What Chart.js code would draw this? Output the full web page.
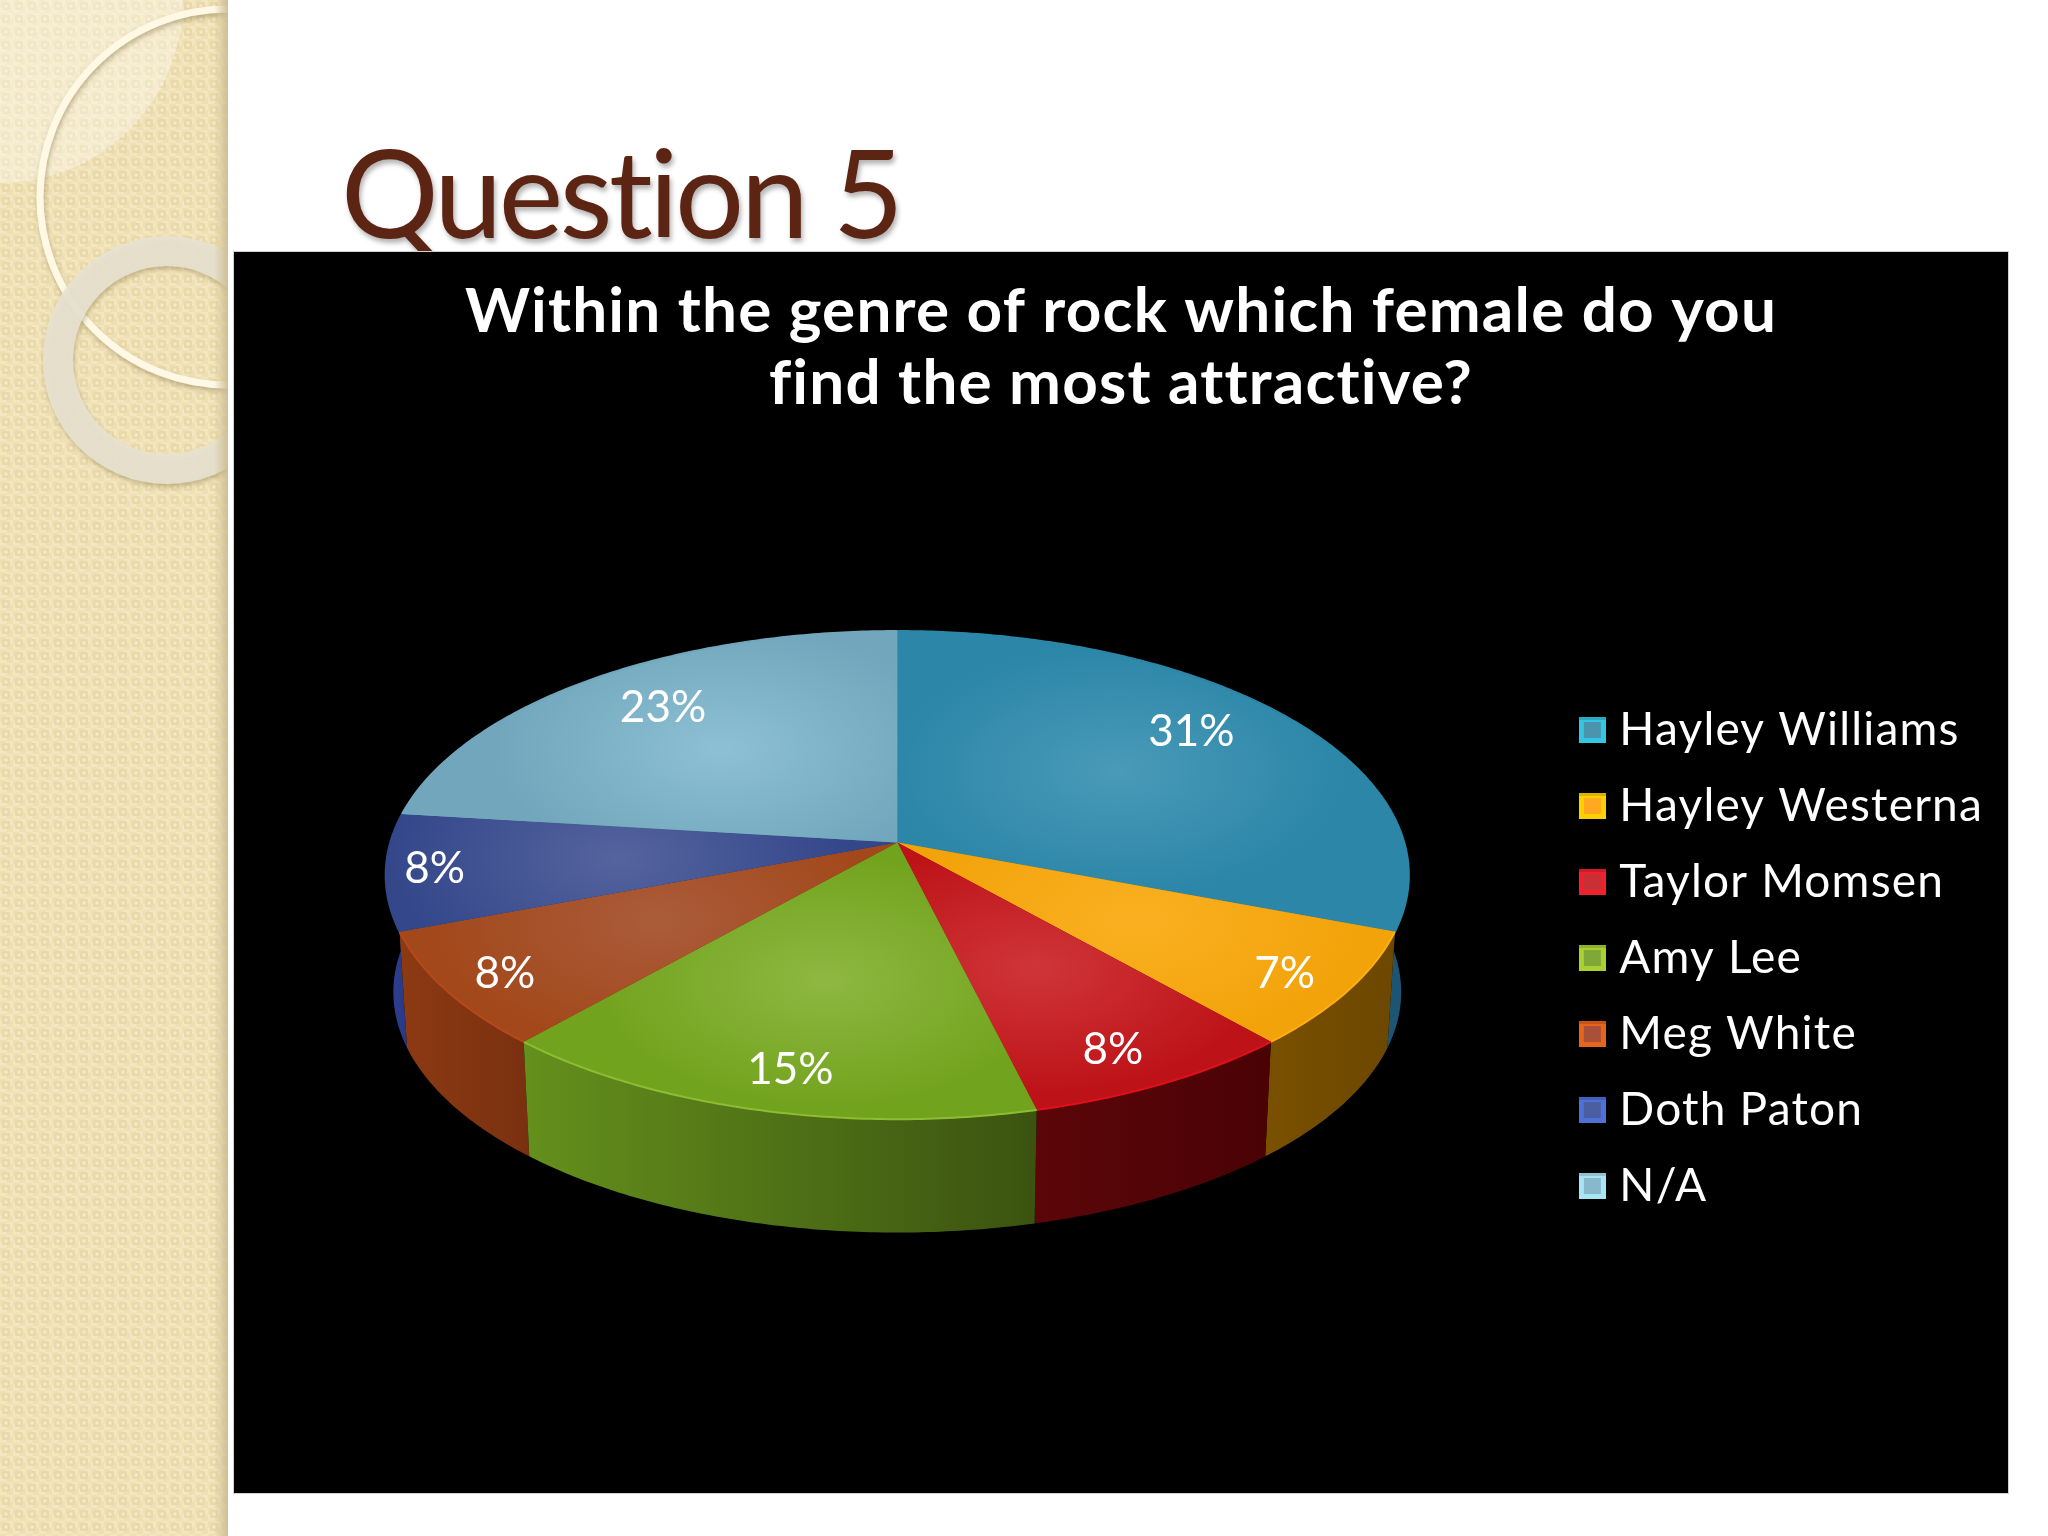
<!DOCTYPE html>
<html lang="en">
<head>
  <meta charset="UTF-8" />
  <title>Question 5</title>
  <style>
    html, body { margin: 0; padding: 0; background: #fff; }
    body { position: relative; width: 2048px; height: 1536px; overflow: hidden; }
    #strip { position: absolute; left: 0; top: 0; }
    #heading {
      position: absolute;
      left: 341px;
      top: 118px;
      font: 400 122px/1.2 Lato, sans-serif;
      letter-spacing: -3.5px;
      color: #5c2413;
      text-shadow: 2px 4px 5px rgba(0,0,0,0.3);
      white-space: nowrap;
    }
    #panel {
      position: absolute;
      left: 234px;
      top: 252px;
      width: 1774px;
      height: 1241px;
      background: #000;
      box-shadow: 0 0 0 1px #cfcfcf;
    }
    #chart { display: block; }
  </style>
</head>
<body>

<svg id="strip" width="228" height="1536" viewBox="0 0 228 1536">
  <defs>
    <pattern id="weave" width="13" height="13" patternUnits="userSpaceOnUse">
      <rect width="13" height="13" fill="#f3e6c1" />
      <rect x="0" y="0" width="6.5" height="6.5" fill="#efe0b4" />
      <rect x="6.5" y="6.5" width="6.5" height="6.5" fill="#efe0b4" />
      <rect x="2" y="2" width="8" height="8" rx="1.5" fill="#e9d9a8" />
      <rect x="4.5" y="4.5" width="3" height="3" fill="#f5eacb" />
    </pattern>
    <linearGradient id="edge" x1="0" x2="1" y1="0" y2="0">
      <stop offset="0" stop-color="#cdbd92" stop-opacity="0" />
      <stop offset="1" stop-color="#cdbd92" stop-opacity="0.95" />
    </linearGradient>
    <filter id="soft" x="-20%" y="-20%" width="140%" height="140%">
      <feDropShadow dx="1" dy="3" stdDeviation="2.5" flood-color="#7a6a3c" flood-opacity="0.45" />
    </filter>
  </defs>
  <rect width="228" height="1536" fill="url(#weave)" />
  <circle cx="0" cy="0" r="183" fill="#fff" fill-opacity="0.32" />
  <circle cx="228" cy="197" r="188" fill="none" stroke="#fff8e4" stroke-width="7" filter="url(#soft)" />
  <path d="M 167 236 A 124 124 0 1 0 167 484 A 124 124 0 1 0 167 236 Z M 167 266 A 94 94 0 1 1 167 454 A 94 94 0 1 1 167 266 Z"
        fill="#e8e3d2" fill-opacity="0.88" fill-rule="evenodd" filter="url(#soft)" />
  <rect x="214" y="0" width="14" height="1536" fill="url(#edge)" />
</svg>

<div id="heading">Question 5</div>

<div id="panel">
  <canvas id="chart" width="1774" height="1241"></canvas>
</div>

<script src="https://cdn.jsdelivr.net/npm/chart.js"></script>
<script>
  const chartTitle = ['Within the genre of rock which female do you', 'find the most attractive?'];
  const categories = ['Hayley Williams', 'Hayley Westerna', 'Taylor Momsen', 'Amy Lee', 'Meg White', 'Doth Paton', 'N/A'];
  const shares = [30.8, 7.7, 7.7, 15.4, 7.7, 7.7, 23.1];
  const shareLabels = ['31%', '7%', '8%', '15%', '8%', '8%', '23%'];

  // slice colours: flat top, soft highlight, rim line, wall left/right
  const topColors = ['#2b86a7', '#f2a309', '#bd1318', '#72a31e', '#a3481b', '#34478a', '#71a6bc'];
  const glowColors = ['#4a9ab8', '#fab022', '#cf3538', '#8eb841', '#aa5c3a', '#55649f', '#8dc0d4'];
  const rimColors = ['#2b86a7', '#ffae10', '#e0101a', '#8cbd32', '#b5491a', '#34478a', '#71a6bc'];
  const wallLeft = ['#1d5f80', '#7a5000', '#5c0609', '#64901c', '#8c3a12', '#2f3f96', '#4f7f94'];
  const wallRight = ['#1c5573', '#6c4700', '#4a0205', '#3b5310', '#7a3010', '#2a3880', '#4f7f94'];
  const swatchEdge = ['#34c6e2', '#ffd000', '#f0202c', '#a9d132', '#e8641c', '#4f70d8', '#a9e4f4'];
  const swatchFill = ['#4a94ae', '#ffa820', '#c83035', '#7fa838', '#a8503a', '#4a5ea0', '#88b8cc'];

  const font = 'Lato, sans-serif';

  function makeSwatch(edge, fill) {
    const c = document.createElement('canvas');
    c.width = 27;
    c.height = 26;
    const g = c.getContext('2d');
    g.fillStyle = edge;
    g.fillRect(0, 0, 27, 26);
    g.fillStyle = 'rgba(0,0,0,0.14)';
    g.fillRect(0, 0, 27, 3);
    g.fillStyle = fill;
    g.fillRect(5, 5, 17, 16);
    return c;
  }
  const swatches = swatchEdge.map((edge, i) => makeSwatch(edge, swatchFill[i]));

  // perspective projection of the flat Chart.js arcs onto a tilted disc
  function projector(arc, o) {
    return (angle, frac, scale, drop) => {
      const u = Math.cos(angle) * frac;
      const v = Math.sin(angle) * frac;
      const w = 1 - o.perspective * v;
      const r = arc.outerRadius * scale;
      return {
        x: arc.x + o.shiftX + r * u / w,
        y: arc.y + o.shiftY + r * o.tilt * v / w + drop
      };
    };
  }

  function edgePoints(p, a0, a1, scale, drop) {
    const pts = [];
    const n = Math.max(2, Math.ceil((a1 - a0) * 90));
    for (let i = 0; i <= n; i++) {
      pts.push(p(a0 + (a1 - a0) * i / n, 1, scale, drop));
    }
    return pts;
  }

  function trace(ctx, pts) {
    ctx.beginPath();
    pts.forEach((pt, i) => i ? ctx.lineTo(pt.x, pt.y) : ctx.moveTo(pt.x, pt.y));
    ctx.closePath();
  }

  // the title and legend text is spaced wider, Lato runs narrower than the original
  const textSpacing = {
    id: 'textSpacing',
    beforeLayout(chart) { chart.ctx.letterSpacing = '1.2px'; },
    beforeDraw(chart) { chart.ctx.letterSpacing = '1.2px'; }
  };

  const pie3d = {
    id: 'pie3d',
    beforeDatasetsDraw(chart, args, o) {
      const ctx = chart.ctx;
      const arcs = chart.getDatasetMeta(0).data;

      // side walls, back to front
      const order = arcs.map((a, i) => i).sort((i, j) => {
        const mid = a => Math.sin((a.startAngle + a.endAngle) / 2);
        return mid(arcs[i]) - mid(arcs[j]);
      });
      order.forEach(i => {
        const arc = arcs[i];
        const p = projector(arc, o);
        const upper = edgePoints(p, arc.startAngle, arc.endAngle, 1, 0);
        const lower = edgePoints(p, arc.startAngle, arc.endAngle, o.wallScale, o.depth);
        const xs = upper.concat(lower).map(pt => pt.x);
        const grad = ctx.createLinearGradient(Math.min(...xs), 0, Math.max(...xs), 0);
        grad.addColorStop(0, wallLeft[i]);
        grad.addColorStop(1, wallRight[i]);
        ctx.fillStyle = grad;
        trace(ctx, upper.concat(lower.reverse()));
        ctx.fill();
      });

      // top surface
      arcs.forEach((arc, i) => {
        const p = projector(arc, o);
        const rim = edgePoints(p, arc.startAngle, arc.endAngle, 1, 0);
        const hub = p(0, 0, 1, 0);
        const mid = (arc.startAngle + arc.endAngle) / 2;
        const glow = p(mid, o.glowAt, 1, 0);

        ctx.save();
        trace(ctx, [hub].concat(rim));
        ctx.fillStyle = topColors[i];
        ctx.fill();
        ctx.clip();
        ctx.translate(glow.x, glow.y);
        ctx.scale(1, o.glowFlat);
        const grad = ctx.createRadialGradient(0, 0, 0, 0, 0, arc.outerRadius * o.glowSize);
        grad.addColorStop(0, glowColors[i]);
        grad.addColorStop(1, topColors[i]);
        ctx.fillStyle = grad;
        ctx.fillRect(-2000, -3000, 4000, 6000);
        ctx.restore();

        ctx.beginPath();
        rim.forEach((pt, k) => k ? ctx.lineTo(pt.x, pt.y) : ctx.moveTo(pt.x, pt.y));
        ctx.strokeStyle = rimColors[i];
        ctx.lineWidth = 2;
        ctx.stroke();
      });

      // percentage labels
      ctx.save();
      ctx.letterSpacing = '0px';
      ctx.fillStyle = '#fff';
      ctx.font = '400 ' + o.labelSize + 'px ' + font;
      ctx.textAlign = 'center';
      ctx.textBaseline = 'middle';
      arcs.forEach((arc, i) => {
        const p = projector(arc, o);
        const pos = p((arc.startAngle + arc.endAngle) / 2, o.labelAt[i], 1, 0);
        ctx.fillText(shareLabels[i], pos.x + o.labelNudgeX[i], pos.y + o.labelNudgeY[i]);
      });
      ctx.restore();
      return false;
    }
  };

  new Chart(document.getElementById('chart').getContext('2d'), {
    type: 'pie',
    data: {
      labels: categories,
      datasets: [{
        data: shares,
        backgroundColor: topColors,
        borderWidth: 0
      }]
    },
    options: {
      responsive: false,
      animation: false,
      radius: 507,
      layout: { padding: { left: 15, right: 15 } },
      plugins: {
        title: {
          display: true,
          text: chartTitle,
          color: '#fff',
          font: { family: font, size: 62, weight: '700', lineHeight: 1.161 },
          padding: { top: 24, bottom: 3 }
        },
        legend: {
          position: 'right',
          align: 'center',
          fullSize: false,
          labels: {
            color: '#fff',
            font: { family: font, size: 46 },
            usePointStyle: true,
            pointStyleWidth: 8,
            padding: 30,
            generateLabels: chart => chart.data.labels.map((text, i) => ({
              text,
              fillStyle: topColors[i],
              strokeStyle: 'transparent',
              lineWidth: 0,
              fontColor: '#fff',
              pointStyle: swatches[i],
              hidden: false,
              index: i
            }))
          }
        },
        tooltip: { enabled: false },
        pie3d: {
          tilt: 0.4728,
          perspective: 0.1337,
          depth: 117.5,
          wallScale: 0.985,
          shiftX: -6.4,
          shiftY: -115.5,
          glowAt: 0.55,
          glowSize: 0.45,
          glowFlat: 0.55,
          labelSize: 44,
          labelAt: [0.75, 0.88, 0.86, 0.85, 0.88, 0.9, 0.78],
          labelNudgeX: [-2, -6, -10, 9, 1, -3, 9],
          labelNudgeY: [-14, 3, 4, 5, 3, 0, -5]
        }
      }
    },
    plugins: [textSpacing, pie3d]
  });
</script>

</body>
</html>
